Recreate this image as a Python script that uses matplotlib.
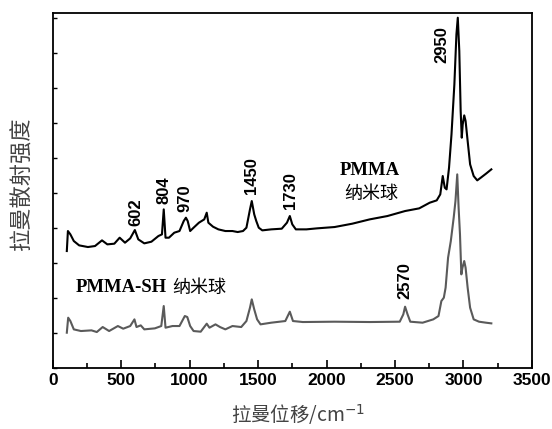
import matplotlib
matplotlib.use("Agg")
import matplotlib.pyplot as plt
from matplotlib.ticker import MultipleLocator

# ---- data (intensity in arbitrary units) ----
pmma_x = [103, 111, 129, 154, 193, 257, 309, 360, 399, 450, 489, 528, 566, 600, 625,
          669, 721, 772, 798, 811, 824, 849, 888, 926, 957, 973, 986, 1004, 1029, 1068,
          1107, 1125, 1137, 1171, 1210, 1261, 1313, 1351, 1390, 1415, 1441, 1454, 1472,
          1487, 1505, 1531, 1596, 1673, 1711, 1732, 1750, 1776, 1853, 1930, 2059, 2188,
          2316, 2445, 2574, 2677, 2754, 2805, 2831, 2849, 2864, 2877, 2895, 2913, 2934,
          2949, 2959, 2970, 2980, 2988, 2995, 3006, 3016, 3031, 3049, 3075, 3101, 3127,
          3165, 3204]
pmma_y = [350, 410, 400, 380, 367, 362, 365, 382, 370, 372, 390, 375, 388, 413, 385,
          373, 378, 395, 400, 475, 390, 390, 405, 410, 440, 450, 440, 410, 420, 435,
          445, 465, 435, 423, 415, 410, 410, 407, 410, 420, 475, 500, 460,
          440, 420, 412, 415, 417, 435, 455, 430, 415, 415, 418, 422, 432,
          445, 455, 470, 478, 495, 502, 520, 575, 540, 535, 600, 700, 850,
          1000, 1050, 950, 770, 690, 730, 757, 740, 680, 610, 575, 562, 570,
          582, 595]

sh_x = [103, 113, 129, 154, 206, 283, 322, 365, 412, 476, 515, 566, 597, 612, 643,
        669, 746, 793, 811, 824, 875, 926, 965, 983, 1004, 1029, 1081, 1125, 1145,
        1189, 1222, 1261, 1313, 1377, 1415, 1441, 1454, 1472, 1493, 1518, 1596, 1699,
        1732, 1755, 1827, 2059, 2316, 2535, 2561, 2574, 2592, 2612, 2702, 2780, 2818,
        2839, 2857, 2870, 2888, 2908, 2929, 2942, 2955, 2965, 2975, 2985, 2993, 3006,
        3016, 3031, 3049, 3075, 3114, 3165, 3204]
sh_y = [105, 150, 140, 115, 110, 112, 107, 122, 110, 125, 117, 125, 145, 122, 127,
        115, 118, 125, 185, 120, 125, 125, 155, 152, 125, 110, 108, 132, 120,
        130, 122, 115, 125, 122, 140, 180, 205, 175, 145, 130, 135, 140,
        168, 140, 137, 138, 137, 138, 160, 183, 160, 138, 135, 145, 155,
        200, 210, 240, 330, 380, 450, 500, 580, 480, 400, 280, 300, 320,
        300, 240, 180, 145, 138, 135, 133]

peak_labels = ["602", "804", "970", "1450", "1730", "2950", "2570"]
peak_label_x = [605, 811, 965, 1454, 1737, 2844, 2574]
peak_label_y = [425, 490, 468, 520, 475, 915, 205]

xticks = [0, 500, 1000, 1500, 2000, 2500, 3000, 3500]

plt.rcParams['font.family'] = ['Liberation Sans', 'DejaVu Sans']

fig = plt.figure(figsize=(5.52, 4.29), dpi=100)
ax = fig.add_axes([0.0955, 0.1429, 0.868, 0.8275])

ax.plot(pmma_x, pmma_y, color='black', lw=1.5, solid_joinstyle='round')
ax.plot(sh_x, sh_y, color='#5a5a5a', lw=1.5, solid_joinstyle='round')

ax.set_xlim(0, 3500)
ax.set_ylim(0, 1065)
ax.set_xticks(xticks)
ax.set_xticklabels([str(t) for t in xticks], fontweight='bold', fontsize=12.5)
ax.xaxis.set_minor_locator(MultipleLocator(250))
ax.tick_params(axis='x', which='major', direction='in', length=6, width=1.2, pad=4)
ax.tick_params(axis='x', which='minor', direction='in', length=3.5, width=1.2)
ax.yaxis.set_major_locator(MultipleLocator(105))
ax.tick_params(axis='y', which='major', direction='in', length=3, width=1, labelleft=False)
for s in ax.spines.values():
    s.set_linewidth(1.3)

for lab, lx, ly in zip(peak_labels, peak_label_x, peak_label_y):
    ax.text(lx, ly, lab, rotation=90, ha='center', va='bottom',
            fontsize=12, fontweight='bold')

ax.text(2316, 592, "PMMA", ha='center', va='center', fontsize=13.5,
        fontweight='bold', family=['Liberation Serif', 'DejaVu Serif'])
ax.text(2330, 522, "纳米球", ha='center', va='center', fontsize=13,
        family=['Noto Sans CJK SC', 'DejaVu Sans'])
ax.text(165, 240, "PMMA-SH", ha='left', va='center', fontsize=13.5,
        fontweight='bold', family=['Liberation Serif', 'DejaVu Serif'])
ax.text(871, 240, "纳米球", ha='left', va='center', fontsize=13,
        family=['Noto Sans CJK SC', 'DejaVu Sans'])

fig.text(0.04, 0.57, "拉曼散射强度", rotation=90, ha='center', va='center',
         fontsize=16, color='#444444', family=['Noto Sans CJK SC', 'DejaVu Sans'])
fig.text(0.54, 0.033, "拉曼位移/cm$^{-1}$", ha='center', va='center',
         fontsize=14, color='#444444', family=['Noto Sans CJK SC', 'DejaVu Sans'])

fig.savefig("out.png", dpi=100)
